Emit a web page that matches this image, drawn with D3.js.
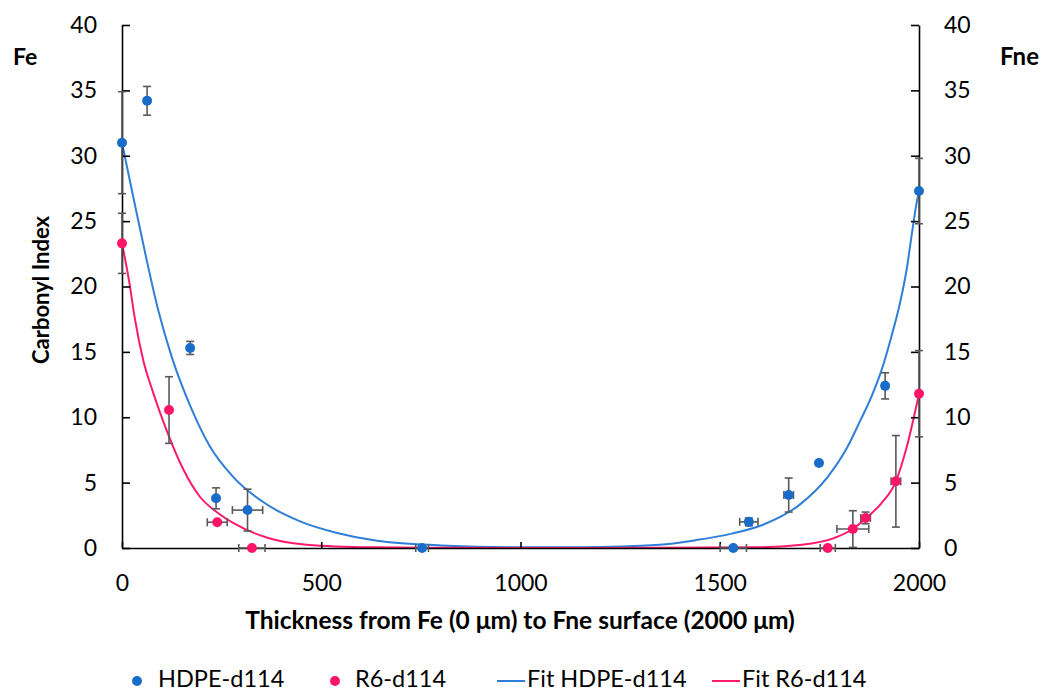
<!DOCTYPE html>
<html><head><meta charset="utf-8">
<script src="https://cdn.jsdelivr.net/npm/d3@7"></script>
<style>
html,body{margin:0;padding:0;background:#fff;}
svg{display:block;font-family:Lato,"Open Sans",sans-serif;}
</style></head>
<body>
<svg id="chart" width="1047" height="693"></svg>
<script>
// ---- data ----
const xTicks = [0, 500, 1000, 1500, 2000];
const yTicks = [0, 5, 10, 15, 20, 25, 30, 35, 40];

const hdpeX    = [0,   63,   171,  236, 315, 753, 1534, 1573, 1673, 1749, 1915, 2000];
const hdpeY    = [31.0,34.2, 15.3, 3.8, 2.9, 0,   0,    2.0,  4.05, 6.5,  12.4, 27.3];
const hdpeXErr = [0,   0,    0,    0,   38,  16,  33,   23,   12,   0,    0,    0];
const hdpeYErr = [3.9, 1.1,  0.5,  0.8, 1.6, 0,   0,    0.3,  1.3,  0,    1.0,  2.5];

const r6X    = [0,   118,  239, 326, 1771, 1834, 1866, 1942, 2000];
const r6Y    = [23.3,10.55,1.97,0,   0,    1.45, 2.3,  5.1,  11.8];
const r6XErr = [0,   0,    25,  33,  19,   40,   12,   12,   0];
const r6YErr = [2.3, 2.55, 0,   0,   0,    1.4,  0.45, 3.5,  3.3];

const fitHdpeX = [0, 30, 60, 90, 125, 175, 220, 280, 360, 450, 540, 640, 800, 1000, 1150, 1350, 1440, 1530, 1610, 1700, 1770, 1820, 1852, 1881, 1906, 1931, 1952, 1969, 1981, 1994, 2000];
const fitHdpeY = [31.0, 26.6, 22.3, 18.3, 14.6, 10.6, 7.8, 5.4, 3.4, 2.0, 1.15, 0.55, 0.2, 0.05, 0.06, 0.25, 0.6, 1.1, 1.8, 3.3, 5.4, 7.7, 9.7, 11.6, 13.6, 16.2, 18.7, 21.3, 23.8, 26.4, 27.3];

const fitR6X = [0, 19, 32, 53, 78, 112, 154, 196, 240, 280, 363, 463, 630, 800, 1200, 1600, 1700, 1785, 1834, 1866, 1905, 1942, 1969, 2000];
const fitR6Y = [23.3, 20.2, 17.6, 14.4, 11.9, 9.0, 6.0, 3.9, 2.7, 1.9, 0.8, 0.25, 0.05, 0.01, 0, 0.05, 0.23, 0.74, 1.45, 2.25, 3.4, 5.1, 7.7, 11.8];

const legendLabels = ["HDPE-d114", "R6-d114", "Fit HDPE-d114", "Fit R6-d114"];

// ---- styles ----
const BLUE = "#1a6cc9", BLUE_LINE = "#2f7fd8";
const PINK = "#ff1568", PINK_LINE = "#ff1a6c";
const GREY = "#595959";
const FONT = "Lato, sans-serif";

const svg = d3.select("#chart");
const x = d3.scaleLinear().domain([0, 2000]).range([122, 919]);
const y = d3.scaleLinear().domain([0, 40]).range([548, 25]);

// fit curves
const line = d3.line().x(d => x(d[0])).y(d => y(d[1])).curve(d3.curveMonotoneX);
svg.append("path").datum(d3.zip(fitHdpeX, fitHdpeY)).attr("d", line)
  .attr("fill", "none").attr("stroke", BLUE_LINE).attr("stroke-width", 2);
svg.append("path").datum(d3.zip(fitR6X, fitR6Y)).attr("d", line)
  .attr("fill", "none").attr("stroke", PINK_LINE).attr("stroke-width", 2);

// error bars
function errorBars(xs, ys, xe, ye) {
  const g = svg.append("g").attr("stroke", GREY).attr("stroke-width", 1.6).attr("fill", "none");
  xs.forEach((xv, i) => {
    const cx = x(xv), cy = y(ys[i]);
    if (ye[i] > 0) {
      const y1 = y(ys[i] + ye[i]), y2 = y(Math.max(0, ys[i] - ye[i]));
      g.append("line").attr("x1", cx).attr("x2", cx).attr("y1", y1).attr("y2", y2);
      g.append("line").attr("x1", cx - 4).attr("x2", cx + 4).attr("y1", y1).attr("y2", y1);
      g.append("line").attr("x1", cx - 4).attr("x2", cx + 4).attr("y1", y2).attr("y2", y2);
    }
    if (xe[i] > 0) {
      const x1 = x(xv - xe[i]), x2 = x(xv + xe[i]);
      g.append("line").attr("x1", x1).attr("x2", x2).attr("y1", cy).attr("y2", cy);
      g.append("line").attr("x1", x1).attr("x2", x1).attr("y1", cy - 4).attr("y2", cy + 4);
      g.append("line").attr("x1", x2).attr("x2", x2).attr("y1", cy - 4).attr("y2", cy + 4);
    }
  });
}

// axes
const axisG = svg.append("g");
const xAxis = d3.axisBottom(x).tickValues(xTicks).tickSizeInner(-6).tickSizeOuter(0).tickPadding(27).tickFormat(d3.format("d"));
const gx = axisG.append("g").attr("transform", "translate(0,548)").call(xAxis);
const yAxisL = d3.axisLeft(y).tickValues(yTicks).tickSizeInner(-8).tickSizeOuter(0).tickPadding(25);
const gyl = axisG.append("g").attr("transform", "translate(122,0)").call(yAxisL);
const yAxisR = d3.axisRight(y).tickValues(yTicks).tickSizeInner(-8).tickSizeOuter(0).tickPadding(25);
const gyr = axisG.append("g").attr("transform", "translate(919,0)").call(yAxisR);
[gx, gyl, gyr].forEach(g => {
  g.selectAll("path.domain").attr("stroke", "#000").attr("stroke-width", 1.6);
  g.selectAll(".tick line").attr("stroke", "#000").attr("stroke-width", 1.6);
  g.selectAll(".tick text").attr("font-size", 23).attr("font-family", FONT).attr("fill", "#000");
});

errorBars(hdpeX, hdpeY, hdpeXErr, hdpeYErr);
errorBars(r6X, r6Y, r6XErr, r6YErr);

// points
svg.append("g").selectAll("circle").data(d3.zip(r6X, r6Y)).join("circle")
  .attr("cx", d => x(d[0])).attr("cy", d => y(d[1])).attr("r", 5).attr("fill", PINK);
svg.append("g").selectAll("circle").data(d3.zip(hdpeX, hdpeY)).join("circle")
  .attr("cx", d => x(d[0])).attr("cy", d => y(d[1])).attr("r", 5).attr("fill", BLUE);

// titles
const tg = svg.append("g").attr("font-family", FONT).attr("font-weight", "bold").attr("fill", "#000");
tg.append("text").attr("x", 13).attr("y", 65).attr("font-size", 23).text("Fe");
tg.append("text").attr("x", 1000).attr("y", 65).attr("font-size", 24).text("Fne");
tg.append("text").attr("x", -290).attr("y", 49).attr("transform", "rotate(-90)")
  .attr("text-anchor", "middle").attr("font-size", 22).text("Carbonyl Index");
tg.append("text").attr("x", 520).attr("y", 629).attr("text-anchor", "middle")
  .attr("font-size", 24.5).text("Thickness from Fe (0 μm) to Fne surface (2000 μm)");

// legend
const lg = svg.append("g").attr("font-size", 23.5).attr("font-family", FONT);
lg.append("circle").attr("cx", 137).attr("cy", 681).attr("r", 5).attr("fill", BLUE);
lg.append("text").attr("x", 158).attr("y", 687).text(legendLabels[0]);
lg.append("circle").attr("cx", 335).attr("cy", 681).attr("r", 5).attr("fill", PINK);
lg.append("text").attr("x", 355).attr("y", 687).text(legendLabels[1]);
lg.append("line").attr("x1", 497).attr("x2", 525).attr("y1", 681).attr("y2", 681).attr("stroke", BLUE_LINE).attr("stroke-width", 2);
lg.append("text").attr("x", 527).attr("y", 687).text(legendLabels[2]);
lg.append("line").attr("x1", 712).attr("x2", 740).attr("y1", 681).attr("y2", 681).attr("stroke", PINK_LINE).attr("stroke-width", 2);
lg.append("text").attr("x", 742).attr("y", 687).text(legendLabels[3]);
</script>
</body></html>
